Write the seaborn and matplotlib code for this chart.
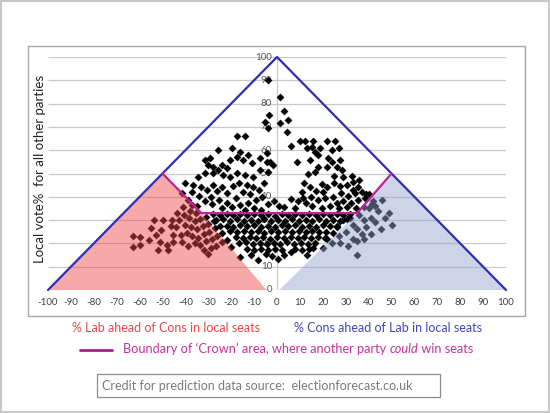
import pandas as pd
import matplotlib
matplotlib.use("Agg")
import matplotlib.pyplot as plt
from matplotlib.patches import Polygon, Rectangle
from matplotlib.lines import Line2D
import seaborn as sns

# --- constituency points (x = Cons lead over Lab, y = local vote% for others) ---
top_x = [-3.8, 1.3, 3.2, 5, 1.3, -3.3, -3.8, 4.2, 6.1, -5.2]
top_y = [90.1, 83, 77, 73, 71.5, 75, 69.5, 67.9, 61.8, 72]

upper_left_x = [-17.6, -14, -25.6, -19.8, -16.2, -17.6, -12.5, -20.5, -14.7, -11, -7.4, -4.5, -4.5,
                -31.4, -29.3, -30, -27.8, -25.6, -24.1, -22, -34.4, -31.4, -27.8, -23.4, -20.5, -17.6,
                -14, -10.3, -7.4, -3, -1.6, -3.8,
                -40, -36.5, -33, -37, -34, -30.5, -28, -26, -29, -24, -22, -19, -16.5, -13, -10.5,
                -15, -12, -8, -5.5, -18, -25.5, -22, -28.5, -31.5, -19.5, -16, -12.5, -9, -6.5, -4,
                -14, -10, -7, -24, -35, -41.6]
upper_left_y = [66.2, 66.2, 60, 60.8, 59.4, 57.2, 57.9, 55.8, 55.8, 54.4, 56.5, 58.7, 55.1,
                55.8, 56.5, 53.6, 52.9, 51.5, 53.6, 52.2, 48.6, 50.1, 50.1, 49.4, 48.6, 50.1,
                49.4, 48.6, 51.5, 55.1, 53.6, 50.8,
                46, 45, 44, 42, 40.5, 43, 45, 42.5, 40, 44, 41.5, 44.5, 46, 45, 44,
                42, 41, 43, 46, 39.5, 38.5, 37.5, 37, 38, 35.5, 36.5, 37.5, 38.5, 40, 37,
                34.5, 35, 34.5, 35, 36, 41.5]

upper_right_x = [10, 12.2, 15.9, 21.7, 25.3, 13, 15.1, 16.6, 18.8, 23.9, 27, 14.4, 18, 22.4, 23.9,
                 27.5, 8.9, 18, 21.7, 26.1, 28.3, 16.6, 29, 32.6, 13.7,
                 12, 14.5, 11, 17, 19.5, 22, 25, 27.5, 30.5, 33, 35.5, 34, 37, 38.5, 31, 28, 24.5,
                 21, 18, 26, 29, 32.5, 35.5, 40, 41.5, 38, 34.5, 30.5, 27, 23, 19.5, 15.5, 12.5,
                 9, 6, 3, 8, -1.5, 1, 15, 20, 11.5, 25, 36, 33]
upper_right_y = [64, 64, 64, 64, 64, 60.8, 61.5, 59.4, 60.8, 60.1, 61, 55.8, 57.9, 56.5, 55.1,
                 55.8, 55.1, 52.9, 52.9, 52.9, 51.5, 50.8, 48.6, 48.9, 49.8,
                 46, 44, 42, 42.5, 45.5, 44, 46, 44.5, 45, 46.5, 44, 41.5, 42, 39.5, 40.5, 41.5, 40,
                 39.5, 38.5, 37.5, 38, 37.5, 38.5, 41, 37, 35.5, 35, 35.5, 35, 36, 35, 36, 37.5,
                 38, 39, 35.5, 35, 38, 36, 40, 42, 39.5, 49, 47, 43]

band_x = [-28, -25, -22, -19, -16, -13, -10, -7, -4, -1, 2, 5, 8, 11, 14, 17, 20, 23, 26, 29, 32,
          -26.5, -23.5, -20.5, -17.5, -14.5, -11.5, -8.5, -5.5, -2.5, 0.5, 3.5, 6.5, 9.5, 12.5,
          15.5, 18.5, 21.5, 24.5, 27.5, 30.5,
          -22, -19, -16, -13, -10, -7, -4, -1, 2, 5, 8, 11, 14, 17, 20, 23, 26,
          -20.5, -17.5, -14.5, -11.5, -8.5, -5.5, -2.5, 0.5, 3.5, 6.5, 9.5, 12.5, 15.5, 18.5, 21.5, 24.5,
          -18, -15, -12, -9, -6, -3, 0, 3, 6, 9, 12, 15, 18, 21,
          -16.5, -13.5, -10.5, -7.5, -4.5, -1.5, 1.5, 4.5, 7.5, 10.5, 13.5, 16.5,
          -13, -10, -7, -4, -1, 2, 8, 11, 14, 15.9,
          -11.5, -5, -2, 6, 13, 3, -8.3, 0.5]
band_y = [32.5, 32, 32.8, 32.2, 32.6, 32, 32.7, 32.1, 32.5, 31.8, 32.6, 32, 32.7, 32.2, 32.6, 32, 32.7, 32.2, 32.6, 32, 32.5,
          30, 30.4, 29.8, 30.3, 29.7, 30.2, 29.8, 30.4, 29.6, 30.2, 29.8, 30.4, 29.7, 30.2,
          29.8, 30.3, 29.7, 30.2, 29.8, 30.3,
          27.6, 27.2, 27.8, 27.3, 27.7, 27.1, 27.6, 27.2, 27.8, 27.3, 27.7, 27.1, 27.6, 27.2, 27.8, 27.3, 27.5,
          25.2, 24.7, 25.3, 24.8, 25.2, 24.6, 25.3, 24.8, 25.2, 24.7, 25.3, 24.8, 25.2, 24.7, 25, 24.6,
          22.6, 22.2, 22.8, 22.3, 22.7, 22.1, 22.6, 22.2, 22.8, 22.3, 22.7, 22.2, 22.6, 22.3,
          20, 20.4, 19.8, 20.3, 19.7, 20.2, 19.8, 20.4, 19.7, 20.2, 19.8, 20.3,
          17.5, 17.2, 17.8, 17.3, 17.7, 17.2, 17.6, 17.3, 17.7, 17.9,
          15, 15.5, 14.8, 16.5, 15, 15.2, 13, 13.5]

lab_x = [-39, -36.9, -40.5, -42.8, -45.9, -49.7, -59.7, -59.7, -55.9, -52.8, -51.3, -48.2, -52, -47.4,
         -50.6, -45.2, -42.1, -45.2, -63, -63, -55, -46.5, -43.5, -41, -38, -35.5, -38.5, -36, -33.5,
         -31, -40, -37.5, -35, -32.5, -30, -27.5, -39.5, -37, -34.5, -32, -29.5, -27, -25, -36,
         -33.5, -31, -28.5, -26, -24, -29, -26.5, -24, -22, -32, -30, -20, -16, -41.5, -39, -44, -53.5]
lab_y = [38.6, 36.5, 32.2, 30, 30, 30, 22.9, 19.3, 21.5, 23.6, 20.8, 19.3, 17.2, 17.2,
         25.8, 23.6, 23.6, 20.8, 23, 18.5, 26.5, 27.5, 33, 35.5, 34, 33, 31, 29.5, 30.5,
         31.5, 28, 27, 26, 27.5, 28.5, 29.5, 24.5, 23, 22.5, 24, 25, 26.5, 27.5, 20,
         19.5, 21, 22, 23, 24.5, 18, 19, 20.5, 21.5, 17, 15.5, 18.5, 14, 20.5, 19, 27, 30]

con_x = [34.8, 49, 50, 45.5, 43, 44, 46, 41, 39, 37, 33, 27.5, 31, 35, 38, 40, 42, 36, 33, 30, 27,
         24, 20, 22, 26, 29, 32, 35, 38, 41, 47, 43, 39]
con_y = [15, 33, 28, 26, 29, 34, 38.5, 31, 27, 24, 22, 20, 19, 21, 30, 35, 38, 32, 28, 25, 23,
         20, 18, 22, 27, 30, 31, 26, 22, 24, 31, 36, 41]

# --- chart outlines ---
outer_x = [-100, 0, 100]
outer_y = [0, 100, 0]
crown_x = [-50, -33, 35, 50]
crown_y = [50, 33, 33, 50]
lab_area_x = [-100, -50, -33, -4.6]
lab_area_y = [0, 50, 33, 0]
con_area_x = [1, 35, 50, 100]
con_area_y = [0, 33, 50, 0]

x_ticks = list(range(-100, 101, 10))
y_ticks = list(range(0, 101, 10))

df = pd.DataFrame({
    "lead": top_x + upper_left_x + upper_right_x + band_x + lab_x + con_x,
    "others": top_y + upper_left_y + upper_right_y + band_y + lab_y + con_y,
})

sns.set_style("white")
plt.rcParams["font.family"] = ["Lato", "DejaVu Sans"]

W, H = 550, 413
fig = plt.figure(figsize=(5.5, 4.13), dpi=100)


def fx(px):
    return px / W


def fy(py):
    return 1 - py / H


ax = fig.add_axes([fx(48), fy(290), fx(506) - fx(48), fy(57) - fy(290)])
ax.set_xlim(-100, 100)
ax.set_ylim(0, 100)
for s in ax.spines.values():
    s.set_visible(False)

ax.hlines(y_ticks, -100, 100, color="#c9c9c9", lw=0.9, zorder=1)
ax.vlines(0, 0, 100, color="#c9c9c9", lw=0.9, zorder=1)

for v in y_ticks:
    ax.text(-2.2, v, str(v), ha="right", va="center", fontsize=7, color="#555555", zorder=2)

sns.scatterplot(data=df, x="lead", y="others", marker="D", s=14, color="black",
                edgecolor="black", linewidth=0.2, zorder=3, legend=False, ax=ax)

ax.add_patch(Polygon(list(zip(lab_area_x, lab_area_y)), closed=True, facecolor=(236/255, 74/255, 74/255),
                     alpha=0.47, edgecolor="none", zorder=4))
ax.add_patch(Polygon(list(zip(con_area_x, con_area_y)), closed=True, facecolor=(147/255, 164/255, 206/255),
                     alpha=0.47, edgecolor="none", zorder=4))

ax.plot(outer_x, outer_y, color="#2e2eb4", lw=1.6, zorder=5, clip_on=False)
ax.plot(crown_x, crown_y, color="#c0209a", lw=1.6, zorder=5, clip_on=False)

ax.set_xticks(x_ticks)
ax.set_xticklabels([str(t) for t in x_ticks], fontsize=7, color="#404040")
ax.set_yticks([])
ax.tick_params(axis="x", length=0, pad=5.5)
ax.set_xlabel("")
ax.set_ylabel("")

# chart frame and image border
fig.patches.append(Rectangle((fx(28), fy(316)), fx(525) - fx(28), fy(46) - fy(316), transform=fig.transFigure,
                             fill=False, edgecolor="#a8a8a8", lw=1))
fig.patches.append(Rectangle((0.002, 0.003), 0.996, 0.994, transform=fig.transFigure,
                             fill=False, edgecolor="#c8c8c8", lw=1.5))

fig.text(fx(40), fy(169), "Local vote%  for all other parties", rotation=90, ha="center", va="center",
         fontsize=9.5, color="#222222")

fig.text(fx(166), fy(328), "% Lab ahead of Cons in local seats", ha="center", va="center",
         fontsize=9, color="#e5474a")
fig.text(fx(388), fy(328), "% Cons ahead of Lab in local seats", ha="center", va="center",
         fontsize=9, color="#4444b4")

# legend line for the crown boundary, text has "could" in italics
fig.lines.append(Line2D([fx(80), fx(112)], [fy(350), fy(350)], transform=fig.transFigure,
                        color="#a3208e", lw=2))
base = fy(350) - 0.008
t1 = fig.text(fx(123), base, "Boundary of \u2018Crown\u2019 area, where another party ", ha="left",
              va="baseline", fontsize=9.2, color="#c8309e")
t2 = fig.text(0, base, "could", fontsize=9.2, color="#c8309e", style="italic", ha="left", va="baseline")
t3 = fig.text(0, base, " win seats", fontsize=9.2, color="#c8309e", ha="left", va="baseline")
fig.canvas.draw()
r = fig.canvas.get_renderer()
bb1 = t1.get_window_extent(r).transformed(fig.transFigure.inverted())
t2.set_x(bb1.x1)
fig.canvas.draw()
bb2 = t2.get_window_extent(r).transformed(fig.transFigure.inverted())
t3.set_x(bb2.x1)

fig.patches.append(Rectangle((fx(97), fy(397)), fx(440) - fx(97), fy(374) - fy(397), transform=fig.transFigure,
                             fill=False, edgecolor="#8c8c8c", lw=0.9))
fig.text(fx(102), fy(386), "Credit for prediction data source:  electionforecast.co.uk", ha="left", va="center",
         fontsize=9, color="#7a7a7a")

fig.savefig("out.png", dpi=100)
